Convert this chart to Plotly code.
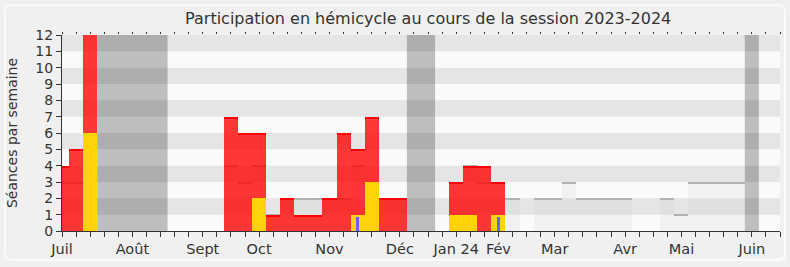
import plotly.graph_objects as go

W, H = 790, 267

# ---- data (one entry per week, index 0 = first week of July 2023) ----
weeks = list(range(52))
seances = [3, 3, 6, 0, 0, 0, 0, 0, 0, 0, 0, 0, 4, 3, 4, 1, 2, 2, 2, 2, 2, 4, 3, 2, 2, 0,
           0, 0, 3, 4, 3, 3, 2, 0, 2, 2, 3, 2, 2, 2, 2, 0, 0, 2, 1, 3, 3, 3, 3, 0, 0, 0]
presences = [4, 5, 13, 0, 0, 0, 0, 0, 0, 0, 0, 0, 7, 6, 6, 1, 2, 1, 1, 2, 6, 5, 7, 2, 2, 0,
             0, 0, 3, 4, 4, 3, 0, 0, 0, 0, 0, 0, 0, 0, 0, 0, 0, 0, 0, 0, 0, 0, 0, 0, 0, 0]
interventions = [0, 0, 6, 0, 0, 0, 0, 0, 0, 0, 0, 0, 0, 0, 2, 0, 0, 0, 0, 0, 0, 1, 3, 0, 0, 0,
                 0, 0, 1, 1, 0, 1, 0, 0, 0, 0, 0, 0, 0, 0, 0, 0, 0, 0, 0, 0, 0, 0, 0, 0, 0, 0]
questions = [0, 0, 0, 0, 0, 0, 0, 0, 0, 0, 0, 0, 0, 0, 0, 0, 0, 0, 0, 0, 0, 0.85, 0, 0, 0, 0,
             0, 0, 0, 0, 0, 0.85, 0, 0, 0, 0, 0, 0, 0, 0, 0, 0, 0, 0, 0, 0, 0, 0, 0, 0, 0, 0]
vacances = [(3, 7), (25, 26), (49, 49)]
month_ticks = {0: "Juil", 5: "Août", 10: "Sept", 14: "Oct", 19: "Nov", 24: "Déc",
               28: "Jan 24", 31: "Fév", 35: "Mar", 40: "Avr", 44: "Mai", 49: "Juin"}
y_max = 12
title = "Participation en hémicycle au cours de la session 2023-2024"
y_title = "Séances par semaine"

FONT = "DejaVu Sans"
TXT = "#333333"

fig = go.Figure()

# gray "séances" bars and their top edge
gx = [w for w, v in zip(weeks, seances) if v > 0]
gv = [v for v in seances if v > 0]
fig.add_trace(go.Bar(x=gx, y=gv, width=1, marker=dict(color="rgba(200,200,200,0.16)", line_width=0),
                     hoverinfo="skip", showlegend=False))
fig.add_trace(go.Bar(x=gx, y=[0.07] * len(gv), base=[v - 0.07 for v in gv], width=1,
                     marker=dict(color="#b2b2b2", line_width=0), hoverinfo="skip", showlegend=False))

# red presence bars and top edge
rx = [w for w, v in zip(weeks, presences) if v > 0]
rv = [v for v in presences if v > 0]
fig.add_trace(go.Bar(x=rx, y=rv, width=1, marker=dict(color="rgba(255,0,0,0.78)", line_width=0),
                     hoverinfo="skip", showlegend=False))
fig.add_trace(go.Bar(x=rx, y=[0.1] * len(rv), base=[v - 0.1 for v in rv], width=1,
                     marker=dict(color="#ff0000", line_width=0), hoverinfo="skip", showlegend=False))

# yellow interventions
yx = [w for w, v in zip(weeks, interventions) if v > 0]
yv = [v for v in interventions if v > 0]
fig.add_trace(go.Bar(x=yx, y=yv, width=1, marker=dict(color="#ffd20a", line_width=0),
                     hoverinfo="skip", showlegend=False))

# blue questions
bx = [w for w, v in zip(weeks, questions) if v > 0]
bv = [v for v in questions if v > 0]
fig.add_trace(go.Bar(x=bx, y=bv, width=0.24, marker=dict(color="#6464ff", line_width=0),
                     hoverinfo="skip", showlegend=False))

# invisible trace for the top tick axis
fig.add_trace(go.Scatter(x=[0], y=[0], xaxis="x2", mode="markers", marker=dict(opacity=0),
                         hoverinfo="skip", showlegend=False))

shapes = []
# outer rounded frame (outline only)
L, R, T, B = 5, 785, 5, 262
plot_l, plot_r, plot_t, plot_b = 62, 780, 35, 233
def px(x):
    return (x - plot_l) / (plot_r - plot_l)
def py(y):
    return (plot_b - y) / (plot_b - plot_t)
rr = 6
path = (f"M {px(L+rr)} {py(T)} L {px(R-rr)} {py(T)} Q {px(R)} {py(T)} {px(R)} {py(T+rr)} "
        f"L {px(R)} {py(B-rr)} Q {px(R)} {py(B)} {px(R-rr)} {py(B)} "
        f"L {px(L+rr)} {py(B)} Q {px(L)} {py(B)} {px(L)} {py(B-rr)} "
        f"L {px(L)} {py(T+rr)} Q {px(L)} {py(T)} {px(L+rr)} {py(T)} Z")
shapes.append(dict(type="path", xref="paper", yref="paper", path=path,
                   fillcolor="rgba(0,0,0,0)", line=dict(color="#fbfbfb", width=2), layer="above"))
# horizontal stripes
for k in range(1, y_max, 2):
    shapes.append(dict(type="rect", xref="paper", yref="y", x0=0, x1=1, y0=k, y1=k + 1,
                       fillcolor="#e5e5e5", line_width=0, layer="below"))
# holiday bands
for a, b in vacances:
    shapes.append(dict(type="rect", xref="x", yref="y", x0=a - 0.5, x1=b + 0.5, y0=0, y1=y_max,
                       fillcolor="rgba(0,0,0,0.24)", line_width=0, layer="below"))

fig.update_layout(
    width=W, height=H,
    margin=dict(l=plot_l, r=W - plot_r, t=plot_t, b=H - plot_b),
    paper_bgcolor="#f0f0f0", plot_bgcolor="#fafafa",
    barmode="overlay", bargap=0,
    shapes=shapes,
    font=dict(family=FONT, color=TXT),
    title=dict(text=title, x=0.542, xref="container", xanchor="center",
               y=1 - 18 / H, yanchor="middle", font=dict(size=16, color=TXT, family=FONT)),
    xaxis=dict(range=[0, len(weeks) - 1], tickmode="array", tickvals=weeks,
               ticktext=[month_ticks.get(w, "") for w in weeks],
               ticks="outside", ticklen=5, tickcolor=TXT, showline=True, linecolor=TXT,
               linewidth=1, showgrid=False, zeroline=False, tickfont=dict(size=14.5, color=TXT),
               fixedrange=True),
    xaxis2=dict(overlaying="x", side="top", anchor="y", range=[0, len(weeks) - 1],
                tickmode="array", tickvals=weeks, showticklabels=False, ticks="outside",
                ticklen=2, tickcolor=TXT, showline=False, showgrid=False, zeroline=False),
    yaxis=dict(range=[0, y_max], tickmode="linear", tick0=0, dtick=1, ticks="outside", ticklen=5,
               tickcolor=TXT, showline=True, linecolor=TXT, linewidth=1, showgrid=False,
               zeroline=False, tickfont=dict(size=14, color=TXT),
               title=dict(text=y_title, font=dict(size=14, color=TXT), standoff=14)),
)

fig.write_html("out.html")
